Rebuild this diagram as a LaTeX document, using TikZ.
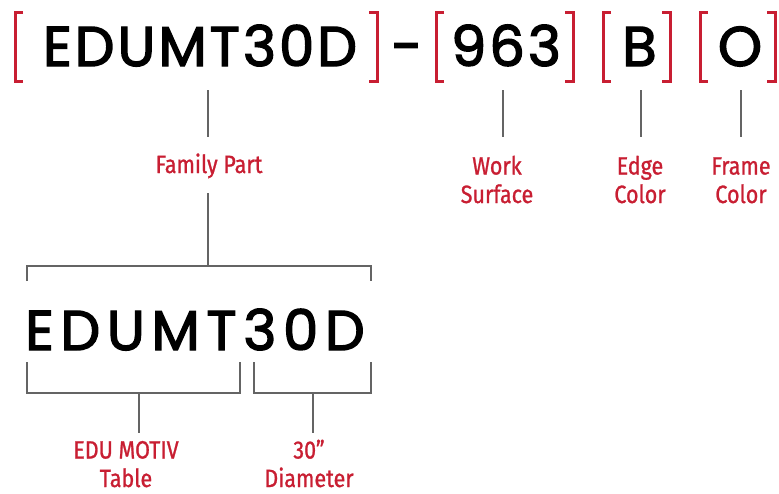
\documentclass[tikz,border=0pt]{standalone}
\usepackage{fontspec}
\usepackage{xcolor}
\usetikzlibrary{positioning}
\newfontfamily\codefont[LetterSpace=5.5, FakeBold=2.5]{Poppins}
\newfontfamily\widecode[LetterSpace=12, FakeBold=2.5]{Poppins}
\newfontfamily\lblfont[FakeStretch=0.86, FakeBold=1]{Fira Sans}
\definecolor{partred}{RGB}{200,30,50}
\definecolor{linkgray}{RGB}{100,100,100}

\tikzset{
  code/.style={inner sep=0pt, font=\codefont\fontsize{56}{60}\selectfont},
  lbl/.style={inner sep=0pt, align=center, text=partred, font=\lblfont\fontsize{25}{28.5}\selectfont},
  brk/.style={partred, line width=3pt},
  lnk/.style={linkgray, line width=1.5pt}
}

\begin{document}
\begin{tikzpicture}[x=1pt, y=-1pt]
  \useasboundingbox (0,0) rectangle (779,493);

  % part number
  \node[code, anchor=base] (fam) at (200,66) {EDUMT30D};
  \node[code, anchor=base] (dash) at (407,66) {-};
  \node[code, anchor=base] (surf) at (506,66) {963};
  \node[code, anchor=base] (edge) at (639.5,66) {B};
  \node[code, anchor=base] (frame) at (740,66) {O};

  % brackets
  \foreach \l/\r in {15/377, 436/573, 603/670, 700/775} {
    \draw[brk] (\l+8,12) -- (\l,12) -- (\l,81) -- (\l+8,81);
    \draw[brk] (\r-8,12) -- (\r,12) -- (\r,81) -- (\r-8,81);
  }

  % labels (base = last line)
  \node[lbl, anchor=base] (famlbl) at (209,173) {Family Part};
  \node[lbl, anchor=base] (surflbl) at (497,203) {Work\\Surface};
  \node[lbl, anchor=base] (edgelbl) at (640,203) {Edge\\Color};
  \node[lbl, anchor=base] (framelbl) at (741,203) {Frame\\Color};

  \coordinate (fam-a) at (208,90);   \coordinate (fam-b) at (208,137);
  \coordinate (surf-a) at (503,90);  \coordinate (surf-b) at (503,137);
  \coordinate (edge-a) at (641,90);  \coordinate (edge-b) at (641,137);
  \coordinate (frame-a) at (741,90); \coordinate (frame-b) at (741,137);
  \foreach \p in {fam, surf, edge, frame}
    \draw[lnk] (\p-a) -- (\p-b);

  % family part breakdown
  \coordinate (split-a) at (208,193);
  \coordinate (split-b) at (208,266);
  \draw[lnk] (split-a) -- (split-b);
  \draw[lnk] (27,281) -- (27,266) -- (371,266) -- (371,281);

  \node[code, anchor=base west, font=\widecode\fontsize{56}{60}\selectfont] (famwide) at (25,350) {EDUMT30D};

  \draw[lnk] (27,362) -- (27,393) -- (240,393) -- (240,362);
  \draw[lnk] (254,362) -- (254,393) -- (371,393) -- (371,362);

  \node[lbl, anchor=base] (tablelbl) at (126,487) {EDU MOTIV\\Table};
  \node[lbl, anchor=base] (diamlbl) at (309,487) {30”\\Diameter};

  \coordinate (table-a) at (139,393); \coordinate (table-b) at (139,433);
  \coordinate (diam-a) at (313,393);  \coordinate (diam-b) at (313,433);
  \draw[lnk] (table-a) -- (table-b);
  \draw[lnk] (diam-a) -- (diam-b);
\end{tikzpicture}
\end{document}
